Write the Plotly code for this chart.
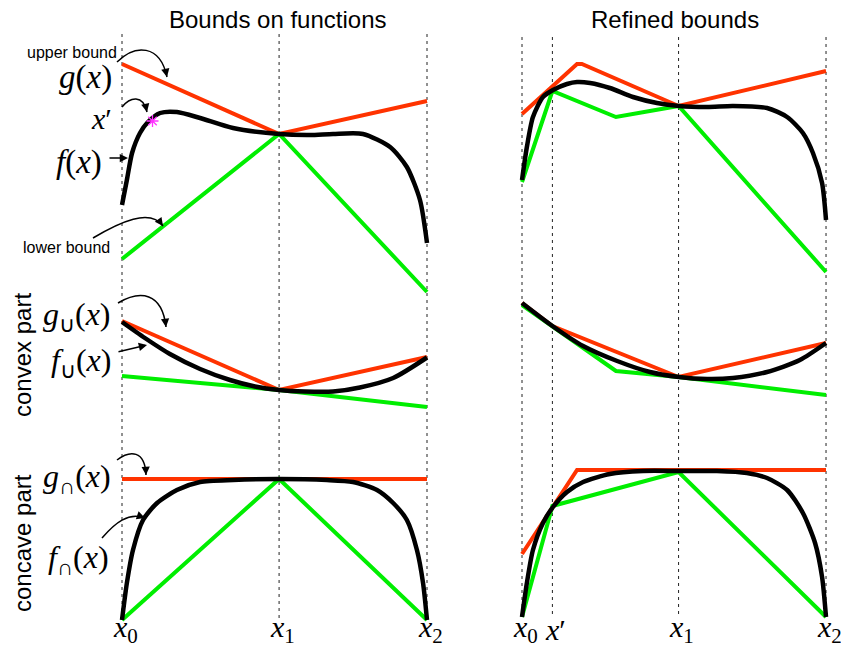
import plotly.graph_objects as go

W, H = 841, 649

# ---------------- data (abstract units) ----------------
# node positions: x0, x', x1, x2
X_LEFT = [0, 5.15, 10]
X_RIGHT = [0, 1.0, 5.15, 10]
X_PRIME = 1.0

# --- row 1: f(x) with its bounds ---
TL_RED = [23.6, 16.6, 19.9]
TL_GREEN = [4.1, 16.6, 0.8]
TL_BLACK_X = [0, 0.16, 0.33, 0.59, 0.85, 1.25, 1.80, 2.56, 3.64, 5.15, 6.16, 6.92, 7.90, 8.79, 9.34, 9.77, 10]
TL_BLACK_Y = [9.5, 12.0, 14.7, 16.7, 17.8, 18.7, 18.8, 18.2, 17.2, 16.6, 16.5, 16.6, 16.6, 15.3, 13.3, 10.0, 5.7]
STAR_Y = 17.9

TR_RED_X = [0, 1.81, 1.97, 5.15, 10]
TR_RED_Y = [18.6, 23.6, 23.6, 19.4, 22.9]
TR_GREEN_X = [0, 1.0, 3.09, 5.15, 10]
TR_GREEN_Y = [11.8, 20.9, 18.3, 19.4, 2.8]
TR_BLACK_X = [0, 0.16, 0.36, 0.69, 1.02, 1.48, 1.81, 2.24, 2.89, 3.65, 4.44, 5.16, 6.09, 6.94, 8.06, 8.72, 9.24, 9.57, 9.87, 10]
TR_BLACK_Y = [12.0, 15.3, 18.3, 20.3, 21.0, 21.6, 21.8, 21.7, 21.2, 20.3, 19.7, 19.4, 19.3, 19.4, 19.2, 18.3, 16.7, 14.7, 11.7, 8.0]

# --- row 2: convex part ---
ML_RED = [9.9, 3.0, 6.3]
ML_GREEN = [4.4, 3.0, 1.3]
ML_BLACK_X = [0, 0.75, 1.57, 2.56, 3.54, 4.36, 5.15, 6.0, 6.92, 7.80, 8.89, 10]
ML_BLACK_Y = [9.8, 8.2, 6.6, 5.1, 4.0, 3.35, 3.0, 2.85, 2.85, 3.25, 4.2, 6.25]

MR_RED = [11.7, 9.4, 4.3, 7.7]
MR_GREEN_X = [0, 1.0, 3.09, 5.15, 10]
MR_GREEN_Y = [11.5, 9.4, 4.9, 4.3, 2.5]
MR_BLACK_X = [0, 1.0, 2.01, 3.13, 4.21, 5.16, 6.09, 6.94, 8.06, 9.14, 10]
MR_BLACK_Y = [11.7, 9.4, 7.4, 5.9, 4.8, 4.3, 4.1, 4.2, 4.8, 6.0, 7.7]

# --- row 3: concave part ---
BL_RED = [16.1, 16.1, 16.1]
BL_GREEN = [2.0, 16.1, 2.0]
BL_BLACK_X = [0, 0.16, 0.36, 0.69, 1.15, 1.80, 2.56, 3.64, 5.15, 6.72, 7.57, 8.36, 8.89, 9.34, 9.67, 9.87, 10]
BL_BLACK_Y = [2.0, 5.7, 9.0, 12.0, 13.7, 15.0, 15.8, 16.0, 16.1, 16.0, 15.8, 15.0, 13.7, 12.0, 9.0, 5.7, 2.0]

BR_RED_X = [0, 1.81, 10]
BR_RED_Y = [8.6, 17.0, 17.0]
BR_GREEN = [2.3, 13.4, 16.8, 2.3]
BR_BLACK_X = [0, 0.16, 0.36, 0.69, 1.02, 1.48, 2.01, 2.89, 3.98, 5.16, 6.41, 7.40, 8.06, 8.72, 9.24, 9.64, 9.87, 10]
BR_BLACK_Y = [2.3, 5.7, 9.0, 11.7, 13.3, 14.8, 15.8, 16.6, 16.9, 16.9, 16.9, 16.7, 16.2, 15.0, 12.7, 9.7, 6.3, 2.3]

TITLES = ["Bounds on functions", "Refined bounds"]
TICK_LEFT = ["<i>x</i><sub>0</sub>", "<i>x</i><sub>1</sub>", "<i>x</i><sub>2</sub>"]
TICK_RIGHT = ["<i>x</i><sub>0</sub>", "<i>x</i>′", "<i>x</i><sub>1</sub>", "<i>x</i><sub>2</sub>"]

# ---------------- styling ----------------
RED = "#ff3300"
GREEN = "#00ee00"
BLACK = "#000000"
SANS = "Liberation Sans, Arial, sans-serif"
SERIF = "Liberation Serif, Times New Roman, serif"


def px(x):
    return x / W


def py(y):
    return 1 - y / H


fig = go.Figure()

# axes: columns and rows (pixel geometry of layout)
col_dom = {1: [91.5 / W, 457.5 / W], 2: [491.6 / W, 839.7 / W]}
col_rng = {1: [-1, 11], 2: [-1, 10.45]}
row_dom = {1: [py(300), py(30)], 2: [py(420), py(300)], 3: [py(640), py(430)]}
row_rng = {1: [0, 27], 2: [0, 12], 3: [0, 21]}

axes = {}
k = 0
for r in (1, 2, 3):
    for c in (1, 2):
        k += 1
        sfx = "" if k == 1 else str(k)
        axes[(r, c)] = ("x" + sfx, "y" + sfx)
        fig.layout["xaxis" + sfx] = dict(domain=col_dom[c], range=col_rng[c], visible=False,
                                         anchor="y" + sfx, fixedrange=True)
        fig.layout["yaxis" + sfx] = dict(domain=row_dom[r], range=row_rng[r], visible=False,
                                         anchor="x" + sfx, fixedrange=True)


def add(r, c, xs, ys, color, width, spline=False):
    xa, ya = axes[(r, c)]
    fig.add_trace(go.Scatter(
        x=xs, y=ys, mode="lines", xaxis=xa, yaxis=ya, hoverinfo="skip",
        line=dict(color=color, width=width, shape="spline" if spline else "linear", smoothing=0.7),
        showlegend=False))


# row 1
add(1, 1, X_LEFT, TL_RED, RED, 4)
add(1, 1, X_LEFT, TL_GREEN, GREEN, 4)
add(1, 1, TL_BLACK_X, TL_BLACK_Y, BLACK, 4.5, True)
xa, ya = axes[(1, 1)]
fig.add_trace(go.Scatter(x=[X_PRIME], y=[STAR_Y], mode="markers", xaxis=xa, yaxis=ya,
                         marker=dict(symbol="asterisk-open", size=10, color="#ff33ff",
                                     line=dict(color="#ff33ff", width=1.3)),
                         showlegend=False, hoverinfo="skip"))
add(1, 2, TR_RED_X, TR_RED_Y, RED, 4)
add(1, 2, TR_GREEN_X, TR_GREEN_Y, GREEN, 4)
add(1, 2, TR_BLACK_X, TR_BLACK_Y, BLACK, 4.5, True)
# row 2
add(2, 1, X_LEFT, ML_RED, RED, 4)
add(2, 1, X_LEFT, ML_GREEN, GREEN, 4)
add(2, 1, ML_BLACK_X, ML_BLACK_Y, BLACK, 4.5, True)
add(2, 2, X_RIGHT, MR_RED, RED, 4)
add(2, 2, MR_GREEN_X, MR_GREEN_Y, GREEN, 4)
add(2, 2, MR_BLACK_X, MR_BLACK_Y, BLACK, 4.5, True)
# row 3
add(3, 1, X_LEFT, BL_RED, RED, 4)
add(3, 1, X_LEFT, BL_GREEN, GREEN, 4)
add(3, 1, BL_BLACK_X, BL_BLACK_Y, BLACK, 4.5, True)
add(3, 2, BR_RED_X, BR_RED_Y, RED, 4)
add(3, 2, X_RIGHT, BR_GREEN, GREEN, 4)
add(3, 2, BR_BLACK_X, BR_BLACK_Y, BLACK, 4.5, True)

shapes = []
# dotted guide lines through nodes, spanning all rows
for xv in X_LEFT:
    shapes.append(dict(type="line", xref="x", yref="paper", x0=xv, x1=xv, y0=py(618), y1=py(33),
                       line=dict(color="#222", width=1, dash="3px,4px"), layer="below"))
for xv in X_RIGHT:
    shapes.append(dict(type="line", xref="x2", yref="paper", x0=xv, x1=xv, y0=py(614), y1=py(33),
                       line=dict(color="#222", width=1, dash="3px,4px"), layer="below"))

annotations = []


def curved_arrow(p0, c1, c2, p1):
    path = "M {},{} C {},{} {},{} {},{}".format(px(p0[0]), py(p0[1]), px(c1[0]), py(c1[1]),
                                                 px(c2[0]), py(c2[1]), px(p1[0]), py(p1[1]))
    shapes.append(dict(type="path", xref="paper", yref="paper", path=path,
                       line=dict(color=BLACK, width=1.5)))
    dx, dy = p1[0] - c2[0], p1[1] - c2[1]
    n = (dx * dx + dy * dy) ** 0.5
    annotations.append(dict(x=px(p1[0]), y=py(p1[1]), xref="paper", yref="paper", text="",
                            showarrow=True, arrowhead=2, arrowsize=1.1, arrowwidth=1.5,
                            arrowcolor=BLACK, ax=-dx / n * 7, ay=-dy / n * 7, standoff=0))


def straight_arrow(p0, p1):
    annotations.append(dict(x=px(p1[0]), y=py(p1[1]), xref="paper", yref="paper", text="",
                            showarrow=True, arrowhead=2, arrowsize=1.1, arrowwidth=1.5,
                            arrowcolor=BLACK, ax=p0[0] - p1[0], ay=p0[1] - p1[1], standoff=0))


curved_arrow((117, 62), (135, 44), (160, 44), (167, 77))      # upper bound
curved_arrow((122, 107), (130, 97), (143, 94), (147, 112))     # x'
straight_arrow((108, 158), (128, 158))                          # f(x)
curved_arrow((93, 238), (120, 222), (150, 208), (163, 226))    # lower bound
curved_arrow((118, 303), (140, 290), (162, 292), (166, 327))   # g_cup
straight_arrow((117, 352), (147, 345))                          # f_cup
curved_arrow((117, 460), (130, 450), (145, 450), (146, 475))   # g_cap
curved_arrow((102, 538), (115, 523), (128, 512), (145, 518))   # f_cap


def text(x, y, s, size, family, xanchor="center", yanchor="middle", angle=0):
    annotations.append(dict(x=px(x), y=py(y), xref="paper", yref="paper", text=s, showarrow=False,
                            xanchor=xanchor, yanchor=yanchor, textangle=angle,
                            font=dict(size=size, family=family, color=BLACK)))


text(278, 20, TITLES[0], 24, SANS)
text(675, 20, TITLES[1], 24, SANS)
text(119, 52, "upper bound", 16, SANS, xanchor="right")
text(112, 247, "lower bound", 16, SANS, xanchor="right")
text(114, 77, "<i>g</i>(<i>x</i>)", 33, SERIF, xanchor="right")
text(114, 118, "<i>x</i>′", 30, SERIF, xanchor="right")
text(104, 162, "<i>f</i>(<i>x</i>)", 33, SERIF, xanchor="right")
text(113, 317, "<i>g</i><sub>∪</sub>(<i>x</i>)", 32, SERIF, xanchor="right")
text(113, 362, "<i>f</i><sub>∪</sub>(<i>x</i>)", 32, SERIF, xanchor="right")
text(113, 478, "<i>g</i><sub>∩</sub>(<i>x</i>)", 32, SERIF, xanchor="right")
text(111, 559, "<i>f</i><sub>∩</sub>(<i>x</i>)", 32, SERIF, xanchor="right")
text(22, 355, "convex part", 24, SANS, angle=-90)
text(22, 543, "concave part", 24, SANS, angle=-90)

for xv, lab in zip(X_LEFT, TICK_LEFT):
    annotations.append(dict(x=xv, y=py(629), xref="x", yref="paper", text=lab, showarrow=False,
                            xanchor="center", yanchor="middle", xshift=3,
                            font=dict(size=30, family=SERIF, color=BLACK)))
for xv, lab in zip(X_RIGHT, TICK_RIGHT):
    annotations.append(dict(x=xv, y=py(629), xref="x2", yref="paper", text=lab, showarrow=False,
                            xanchor="center", yanchor="middle", xshift=3,
                            font=dict(size=30, family=SERIF, color=BLACK)))

fig.update_layout(width=W, height=H, margin=dict(l=0, r=0, t=0, b=0),
                  paper_bgcolor="white", plot_bgcolor="white",
                  shapes=shapes, annotations=annotations, showlegend=False)

fig.write_html("out.html", config={"displayModeBar": False, "staticPlot": True},
               post_script="document.body.style.margin='0';document.body.style.padding='0';"
                           "document.body.style.overflow='hidden';")
